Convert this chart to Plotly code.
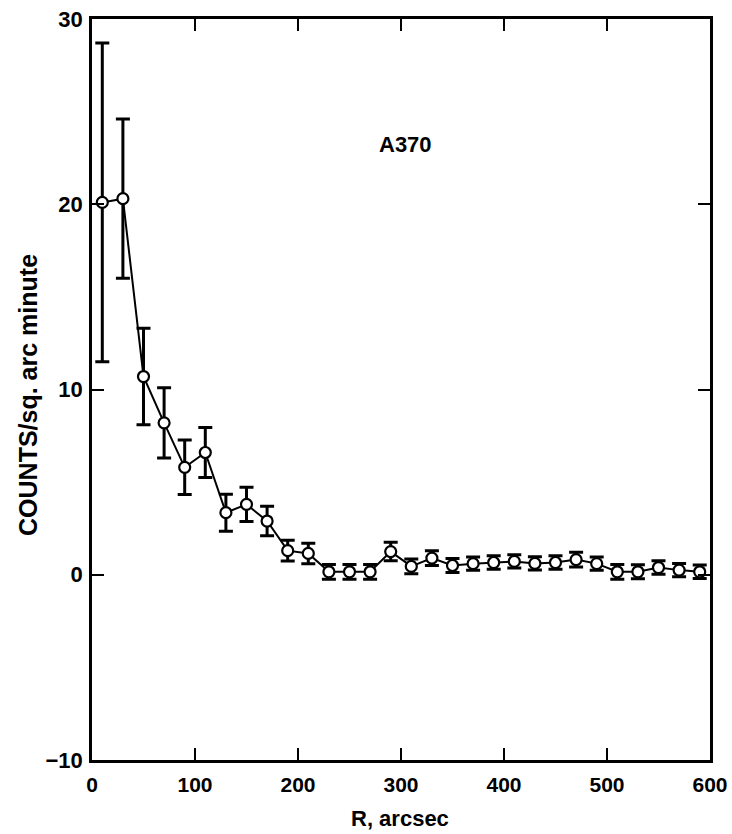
import plotly.graph_objects as go

# Data
r_arcsec = [10, 30, 50, 70, 90, 110, 130, 150, 170, 190, 210, 230, 250, 270, 290,
            310, 330, 350, 370, 390, 410, 430, 450, 470, 490, 510, 530, 550, 570, 590]
counts = [20.1, 20.3, 10.7, 8.2, 5.8, 6.6, 3.35, 3.8, 2.9, 1.3, 1.15, 0.16, 0.16, 0.16, 1.25,
          0.45, 0.9, 0.5, 0.6, 0.66, 0.72, 0.61, 0.66, 0.82, 0.6, 0.16, 0.16, 0.39, 0.25, 0.16]
errors = [8.6, 4.3, 2.6, 1.9, 1.47, 1.35, 1.0, 0.92, 0.8, 0.56, 0.55, 0.4, 0.4, 0.4, 0.5,
          0.4, 0.4, 0.38, 0.36, 0.36, 0.36, 0.36, 0.36, 0.4, 0.36, 0.4, 0.38, 0.36, 0.36, 0.36]

x_ticks = [0, 100, 200, 300, 400, 500, 600]
y_ticks = [-10, 0, 10, 20, 30]

FONT = "Liberation Sans, Arial, Helvetica, sans-serif"

fig = go.Figure()
fig.add_trace(go.Scatter(
    x=r_arcsec, y=counts,
    mode="lines+markers",
    line=dict(color="black", width=2),
    marker=dict(symbol="circle", size=11, color="white",
                line=dict(color="black", width=2.2)),
    error_y=dict(type="data", array=errors, visible=True,
                 color="black", thickness=3, width=7),
    showlegend=False,
))

axis_common = dict(
    showline=True, linecolor="black", linewidth=2.5, mirror="ticks",
    ticks="inside", ticklen=12, tickwidth=2, tickcolor="black",
    showgrid=False, zeroline=False,
)

fig.update_layout(
    width=732, height=834,
    margin=dict(l=92, r=22, t=19, b=74, autoexpand=False),
    paper_bgcolor="white", plot_bgcolor="white",
    xaxis=dict(range=[0, 600], tickvals=x_ticks, ticklabelstandoff=4,
               tickfont=dict(family=FONT, size=21, color="black", weight="bold"),
               **axis_common),
    yaxis=dict(range=[-10, 30], tickvals=y_ticks, ticklabelstandoff=2,
               tickfont=dict(family=FONT, size=22, color="black", weight="bold"),
               **axis_common),
    annotations=[
        dict(text="A370", x=304, y=23.2, xref="x", yref="y", showarrow=False,
             font=dict(family=FONT, size=22, color="black", weight="bold")),
        dict(text="R, arcsec", x=0.498, y=-0.0783, xref="paper", yref="paper",
             showarrow=False, xanchor="center", yanchor="middle",
             font=dict(family=FONT, size=22, color="black", weight="bold")),
        dict(text="COUNTS/sq. arc minute", x=-0.1036, y=0.4926, xref="paper", yref="paper",
             showarrow=False, textangle=-90, xanchor="center", yanchor="middle",
             font=dict(family=FONT, size=25, color="black", weight="bold")),
    ],
)

fig.write_html("out.html")
